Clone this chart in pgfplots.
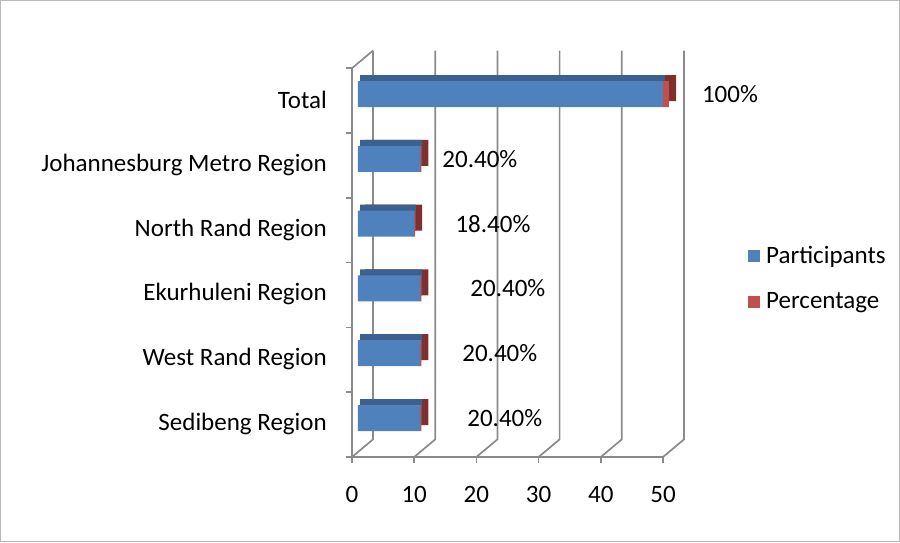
\documentclass[border=0pt]{standalone}
\usepackage{pgfplots}
\usepackage{pgfplotstable}
\pgfplotsset{compat=1.18}
\usepackage{fontspec}
\setmainfont{Carlito}
\definecolor{pblue}{HTML}{4F81BD}
\definecolor{pred}{HTML}{C0504D}
\definecolor{dblue}{HTML}{3A6190}
\definecolor{dred}{HTML}{7F302E}
\definecolor{gridc}{HTML}{8A8A8A}
\pgfplotstableread{
y part pct
0 10 0.204
1 10 0.204
2 10 0.204
3 9 0.184
4 10 0.204
5 49 1
}\datatab
\newcommand{\bigf}{\fontsize{25}{29}\selectfont}
\pgfplotsset{base/.style={
  anchor=south west, scale only axis, width=311pt, height=388.8pt,
  xmin=0, xmax=50, ymin=-0.5, ymax=5.5, clip=false}}
\begin{document}
\begin{tikzpicture}
\draw[gray!55, line width=1pt] (0.5pt,0.5pt) rectangle (899.5pt,541.5pt);
% walls and axes
\begin{axis}[base, at={(358pt,91.6pt)}, hide axis]
\pgfplotsinvokeforeach{0,10,20,30,40,50}{
  \draw[gridc, line width=1.7pt] ([shift={(-6pt,-6.6pt)}]axis cs:#1,-0.5) -- ([shift={(15pt,11pt)}]axis cs:#1,-0.5) -- ([shift={(15pt,11pt)}]axis cs:#1,5.5);
  \draw[gridc, line width=1.7pt] ([shift={(-6pt,-6.6pt)}]axis cs:#1,-0.5) -- ([shift={(-6pt,-12.6pt)}]axis cs:#1,-0.5);
}
\pgfplotsinvokeforeach{-0.5,0.5,1.5,2.5,3.5,4.5,5.5}{
  \draw[gridc, line width=1.7pt] ([shift={(-6pt,-6.6pt)}]axis cs:0,#1) -- ([shift={(-12pt,-6.6pt)}]axis cs:0,#1);
}
\draw[gridc, line width=1.7pt] ([shift={(-6pt,-6.6pt)}]axis cs:50,-0.5) -- ([shift={(-6pt,-6.6pt)}]axis cs:0,-0.5) -- ([shift={(-6pt,-6.6pt)}]axis cs:0,5.5) -- ([shift={(15pt,11pt)}]axis cs:0,5.5);
\end{axis}
% extrusion: side faces (and red top faces)
\begin{axis}[base, at={(365pt,97.6pt)}, hide axis, xbar stacked, bar width=26pt]
\addplot[fill=dred, draw=none] table[x=part, y=y] {\datatab};
\addplot[fill=dred, draw=none] table[x=pct, y=y] {\datatab};
\end{axis}
% extrusion: blue top faces
\begin{axis}[base, at={(360pt,97.6pt)}, hide axis, xbar, bar width=26pt]
\addplot[fill=dblue, draw=none] table[x=part, y=y] {\datatab};
\end{axis}
% front faces
\begin{axis}[base, at={(358pt,91.6pt)}, xbar stacked, bar width=26pt,
  axis line style={draw=none}, major tick length=0pt,
  ytick={0,1,2,3,4,5},
  yticklabels={Sedibeng Region, West Rand Region, Ekurhuleni Region, North Rand Region, Johannesburg Metro Region, Total},
  xtick={0,10,20,30,40,50},
  /pgf/number format/assume math mode=true,
  tick label style={font=\bigf},
  yticklabel style={anchor=east, inner sep=0pt, xshift=-31pt, yshift=-6pt},
  xticklabel style={anchor=north, inner sep=0pt, xshift=-6pt, yshift=-36pt},
  legend style={at={(axis description cs:1.254,0.531)}, anchor=north west, draw=none, fill=none,
    font=\bigf, row sep=24pt, inner sep=0pt, column sep=4pt},
  legend cell align=left,
  legend image code/.code={\fill[#1] (0pt,-6pt) rectangle (12pt,6pt);},
]
\addplot[fill=pblue, draw=none] table[x=part, y=y] {\datatab};
\addlegendentry{Participants}
\addplot[fill=pred, draw=none] table[x=pct, y=y] {\datatab};
\addlegendentry{Percentage}
\node[font=\bigf] at (axis cs:24.5,5) {49};
\node[font=\bigf] at (axis cs:5,4) {10};
\node[font=\bigf] at (axis cs:4.5,3) {9};
\node[font=\bigf] at (axis cs:5,2) {10};
\node[font=\bigf] at (axis cs:5,1) {10};
\node[font=\bigf] at (axis cs:5,0) {10};
\node[font=\bigf] at (axis cs:59.8,5) {100\%};
\node[font=\bigf] at (axis cs:19.6,4) {20.40\%};
\node[font=\bigf] at (axis cs:21.7,3) {18.40\%};
\node[font=\bigf] at (axis cs:24.1,2) {20.40\%};
\node[font=\bigf] at (axis cs:22.8,1) {20.40\%};
\node[font=\bigf] at (axis cs:23.6,0) {20.40\%};
\end{axis}
\end{tikzpicture}
\end{document}
